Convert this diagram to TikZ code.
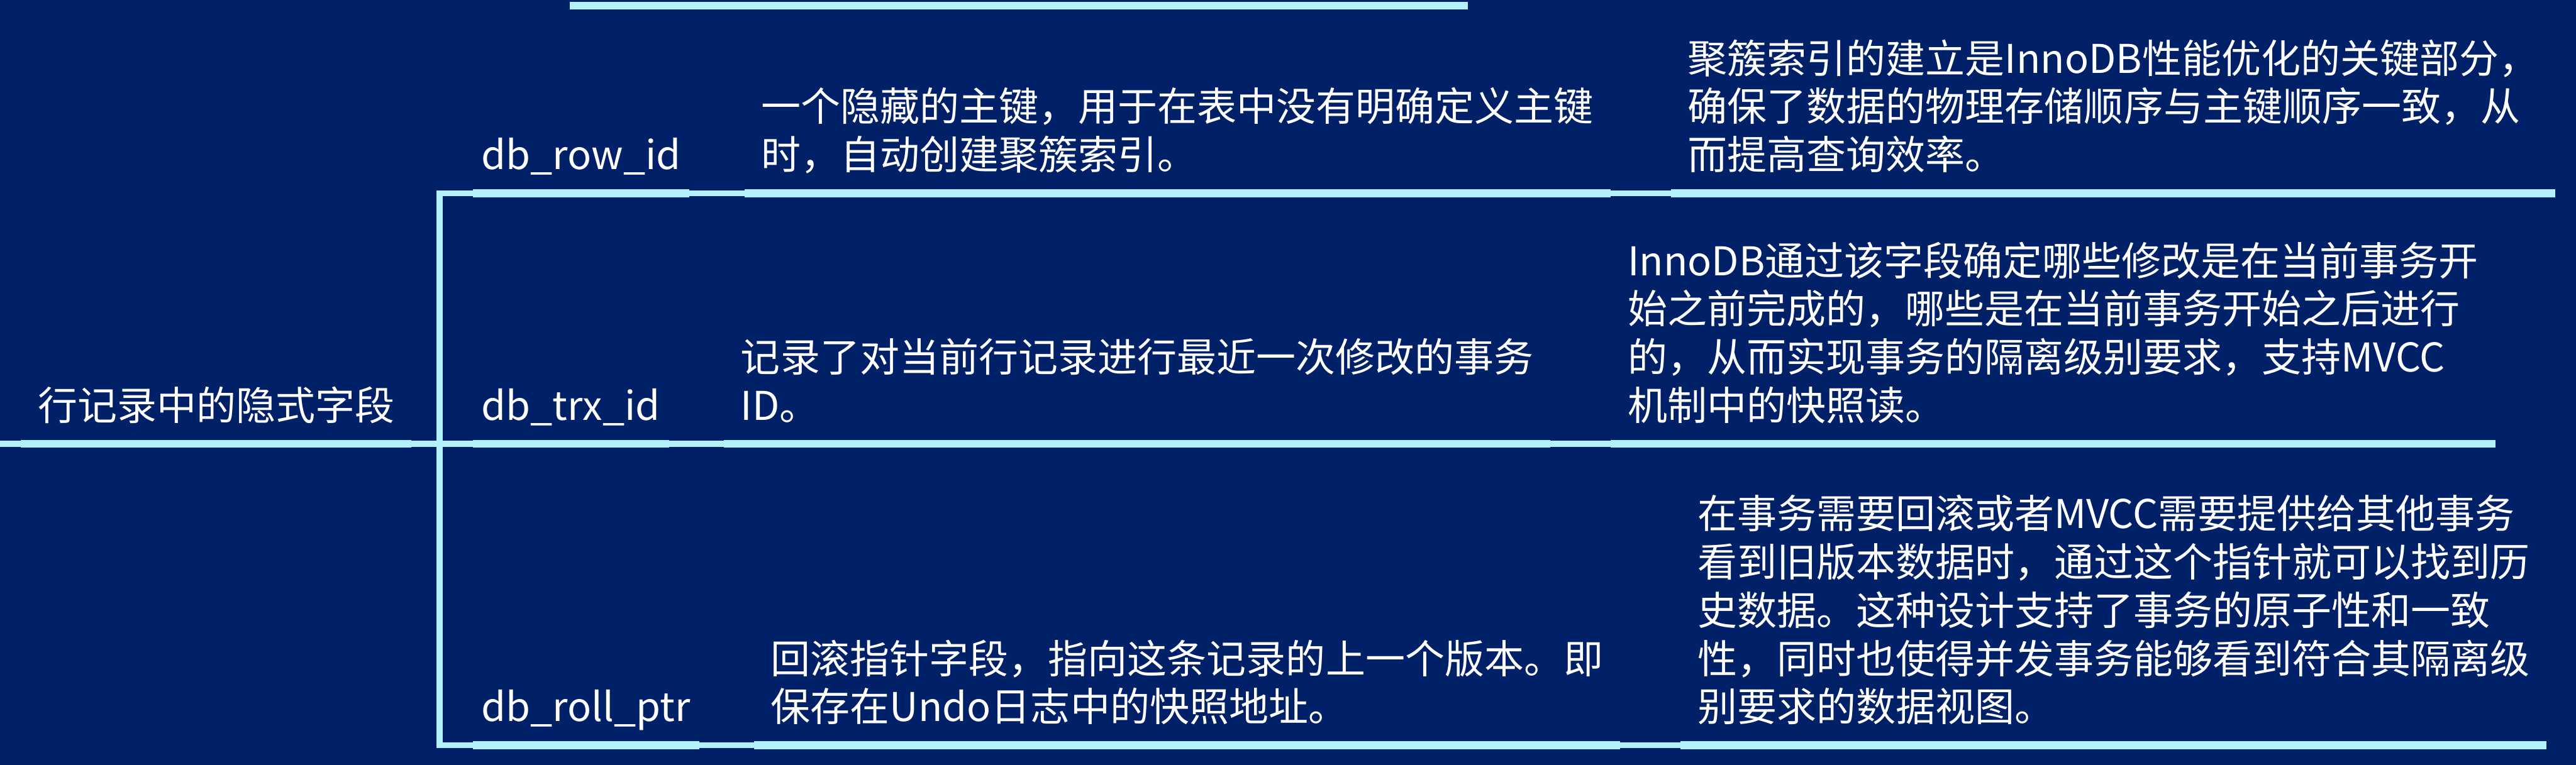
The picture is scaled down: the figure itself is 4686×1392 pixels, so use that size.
\documentclass[tikz,border=0pt]{standalone}
\usepackage{fontspec}
\setmainfont{Noto Sans CJK SC}
\usepackage{tikz}
\usetikzlibrary{positioning}
\definecolor{bgblue}{HTML}{002068}
\definecolor{linecyan}{HTML}{B2F0FB}

\begin{document}
\begin{tikzpicture}[
  x=0.01cm, y=-0.01cm,
  font=\fontsize{20.5pt}{25pt}\selectfont,
  topic/.style={align=left, text=white, inner xsep=0.3cm, inner ysep=0.16cm,
                execute at end node=\strut},
  field/.style={topic, inner xsep=0.15cm},
  uline/.style={draw=linecyan, line width=4pt},
  link/.style={draw=linecyan, line width=3.2pt}
]
\fill[bgblue] (0,0) rectangle (4686,1392);
\useasboundingbox (0,0) rectangle (4686,1392);
% root and fork
\node[topic, anchor=south west] (hidden) at (38,808) {行记录中的隐式字段};
\coordinate (edge) at (0,808);
\coordinate (fork) at (800,808);
\coordinate (cutl) at (1036,10);
\coordinate (cutr) at (2670,10);
% fields
\node[field, above right=4.56cm and 0.6cm of fork, anchor=south west] (rowid) {db\_row\_id};
\node[field, right=0.6cm of fork, anchor=south west] (trxid) {db\_trx\_id};
\node[field, below right=5.48cm and 0.6cm of fork, anchor=south west] (rollptr) {db\_roll\_ptr};
% what each field holds
\node[topic, right=1.0cm of rowid.south east, anchor=south west] (rowinfo)
  {一个隐藏的主键，用于在表中没有明确定义主键\\时，自动创建聚簇索引。};
\node[topic, right=1.0cm of trxid.south east, anchor=south west] (trxinfo)
  {记录了对当前行记录进行最近一次修改的事务\\ID。};
\node[topic, right=1.0cm of rollptr.south east, anchor=south west] (rollinfo)
  {回滚指针字段，指向这条记录的上一个版本。即\\保存在Undo日志中的快照地址。};
% why it matters
\node[topic, right=1.1cm of rowinfo.south east, anchor=south west] (rownote)
  {聚簇索引的建立是InnoDB性能优化的关键部分，\\确保了数据的物理存储顺序与主键顺序一致，从\\而提高查询效率。};
\node[topic, right=1.1cm of trxinfo.south east, anchor=south west] (trxnote)
  {InnoDB通过该字段确定哪些修改是在当前事务开\\始之前完成的，哪些是在当前事务开始之后进行\\的，从而实现事务的隔离级别要求，支持MVCC\\机制中的快照读。};
\node[topic, right=1.1cm of rollinfo.south east, anchor=south west] (rollnote)
  {在事务需要回滚或者MVCC需要提供给其他事务\\看到旧版本数据时，通过这个指针就可以找到历\\史数据。这种设计支持了事务的原子性和一致\\性，同时也使得并发事务能够看到符合其隔离级\\别要求的数据视图。};
% underlines
\draw[uline] (cutl)--(cutr);
\draw[uline] (hidden.south west)--(hidden.south east);
\draw[uline] (rowid.south west)--(rowid.south east);     \draw[uline] (trxid.south west)--(trxid.south east);
\draw[uline] (rollptr.south west)--(rollptr.south east); \draw[uline] (rowinfo.south west)--(rowinfo.south east);
\draw[uline] (trxinfo.south west)--(trxinfo.south east); \draw[uline] (rollinfo.south west)--(rollinfo.south east);
\draw[uline] (rownote.south west)--(rownote.south east); \draw[uline] (trxnote.south west)--(trxnote.south east);
\draw[uline] (rollnote.south west)--(rollnote.south east);
% links
\draw[link] (edge)--(hidden.south west);
\draw[link] (hidden.south east)--(trxid.south west);
\draw[link] (rowid.south west)--(rowid.south west -| fork)--(rollptr.south west -| fork)--(rollptr.south west);
\draw[link] (rowid.south east)--(rowinfo.south west);    \draw[link] (trxid.south east)--(trxinfo.south west);
\draw[link] (rollptr.south east)--(rollinfo.south west); \draw[link] (rowinfo.south east)--(rownote.south west);
\draw[link] (trxinfo.south east)--(trxnote.south west);  \draw[link] (rollinfo.south east)--(rollnote.south west);
\end{tikzpicture}
\end{document}
